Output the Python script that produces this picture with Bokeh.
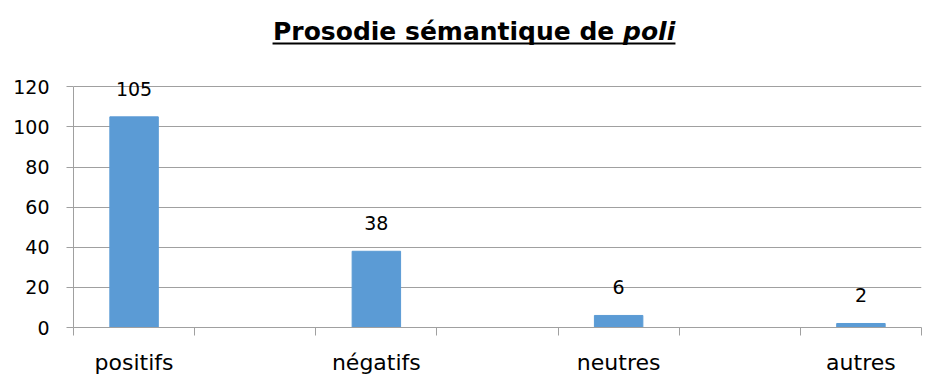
from bokeh.plotting import figure
from bokeh.models import Range1d, FixedTicker, ColumnDataSource
from bokeh.core.properties import value
from bokeh.embed import file_html
from bokeh.resources import INLINE

categories = ["positifs", "négatifs", "neutres", "autres"]
counts = [105, 38, 6, 2]
y_ticks = [0, 20, 40, 60, 80, 100, 120]
title_main = "Prosodie sémantique de "
title_word = "poli"

FONT = "DejaVu Sans"
GRID = "#a0a0a0"

xs = [2 * i + 0.5 for i in range(len(categories))]
src = ColumnDataSource(dict(x=xs, top=counts, lab=[str(c) for c in counts]))

p = figure(width=940, height=383, output_backend="svg", toolbar_location=None,
           x_range=Range1d(0, 7), y_range=Range1d(0, 163),
           min_border_left=73, min_border_right=19, min_border_top=0, min_border_bottom=56)
p.outline_line_color = None
p.background_fill_color = "white"
p.border_fill_color = "white"

p.vbar(x="x", top="top", width=0.4, bottom=0, source=src, color="#5b9bd5")
p.text(x="x", y="top", text="lab", source=src, text_align="center", text_baseline="alphabetic",
       y_offset=-28, text_font=value(FONT), text_font_size="19px", text_color="black")

# title
p.text(x=[4.536], y=[147.3], text=[title_main], text_align="right", text_baseline="alphabetic",
       text_font=value(FONT), text_font_style="bold", text_font_size="25px", text_color="black")
p.text(x=[4.536], y=[147.3], text=[title_word], text_align="left", text_baseline="alphabetic",
       text_font=value(FONT), text_font_style="bold italic", text_font_size="25px", text_color="black")
p.segment(x0=[1.643], x1=[4.969], y0=[141.6], y1=[141.6], line_color="black", line_width=2)

# y axis
p.yaxis.ticker = FixedTicker(ticks=y_ticks)
p.yaxis.bounds = (0, 120)
p.yaxis.axis_line_color = GRID
p.yaxis.major_tick_line_color = GRID
p.yaxis.major_tick_out = 7
p.yaxis.major_tick_in = 0
p.yaxis.minor_tick_line_color = None
p.yaxis.major_label_standoff = 17
p.yaxis.major_label_text_font = FONT
p.yaxis.major_label_text_font_size = "19px"
p.yaxis.major_label_text_color = "black"

p.ygrid.grid_line_color = GRID
p.xgrid.grid_line_color = None

# x axis
p.xaxis.ticker = FixedTicker(ticks=xs, minor_ticks=list(range(8)))
p.xaxis.major_label_overrides = {x: c for x, c in zip(xs, categories)}
p.xaxis.axis_line_color = GRID
p.xaxis.major_tick_line_color = None
p.xaxis.major_tick_out = 0
p.xaxis.major_tick_in = 0
p.xaxis.minor_tick_line_color = GRID
p.xaxis.minor_tick_out = 8
p.xaxis.minor_tick_in = 0
p.xaxis.major_label_standoff = 14
p.xaxis.major_label_text_font = FONT
p.xaxis.major_label_text_font_size = "22px"
p.xaxis.major_label_text_color = "black"

open("out.html", "w").write(file_html(p, INLINE))
